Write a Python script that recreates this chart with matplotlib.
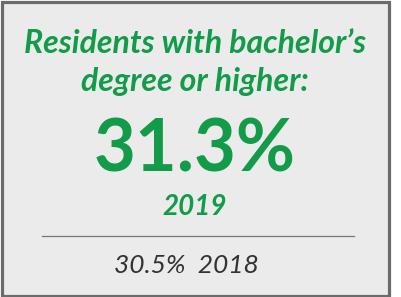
import matplotlib
matplotlib.use("Agg")
import matplotlib.pyplot as plt
from matplotlib.patches import Rectangle

# data
title_lines = ["Residents with bachelor\u2019s", "degree or higher:"]
current_value = 31.3
current_year = 2019
prior_value = 30.5
prior_year = 2018

green = "#129b48"
bg = "#ebebeb"
border = "#6b6b6b"

fig = plt.figure(figsize=(4.01, 2.97), dpi=100)
fig.patch.set_facecolor("white")
ax = fig.add_axes([0, 0, 1, 1])
ax.set_xlim(0, 401)
ax.set_ylim(297, 0)
ax.axis("off")

# card
ax.add_patch(Rectangle((1.5, 1.5), 387.5, 294, facecolor=bg, edgecolor=border, linewidth=2.3))

cx = 195
ax.text(cx, 53, title_lines[0], ha="center", va="baseline", color=green,
        fontsize=23, family="Lato", weight="bold", style="italic")
ax.text(cx, 91, title_lines[1], ha="center", va="baseline", color=green,
        fontsize=23, family="Lato", weight="bold", style="italic")

ax.text(cx, 171, f"{current_value:.1f}%", ha="center", va="baseline", color=green,
        fontsize=52, family="Lato", weight="bold")
ax.text(cx, 215, str(current_year), ha="center", va="baseline", color=green,
        fontsize=20, family="Lato", weight="bold", style="italic")

ax.plot([42, 354], [236, 236], color="#777777", linewidth=0.9)

ax.text(186, 273, f"{prior_value:.1f}%  {prior_year}", ha="center", va="baseline",
        color="#333333", fontsize=19, family="Lato", weight="normal", style="italic")

plt.savefig("out.png", dpi=100)
